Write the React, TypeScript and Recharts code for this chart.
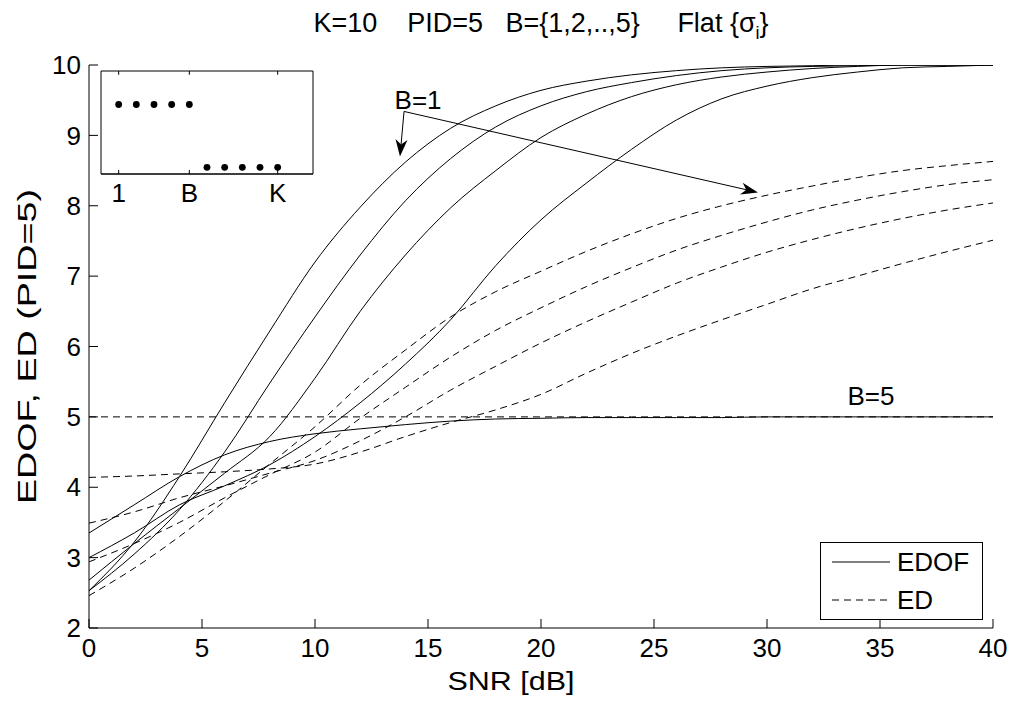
import React from 'react';
import {
  LineChart,
  Line,
  XAxis,
  YAxis,
  ReferenceLine,
  ReferenceDot,
  ReferenceArea,
  Legend,
  ScatterChart,
  Scatter,
} from 'recharts';

// SNR grid [dB]
const snr = [0, 2, 4, 6, 8, 10, 12, 14, 16, 18, 20, 22, 24, 26, 28, 30, 32, 34, 36, 38, 40];

// EDOF curves, B = 1..5 (solid)
const edofB1 = [2.53, 3.22, 4.15, 5.2, 6.22, 7.2, 7.98, 8.62, 9.1, 9.42, 9.64, 9.77, 9.86, 9.92, 9.96, 9.98, 9.99, 10, 10, 10, 10];
const edofB2 = [2.53, 3.05, 3.68, 4.5, 5.48, 6.42, 7.3, 8.07, 8.67, 9.12, 9.42, 9.62, 9.75, 9.85, 9.92, 9.96, 9.98, 9.99, 10, 10, 10];
const edofB3 = [2.68, 3.2, 3.7, 4.2, 4.72, 5.55, 6.5, 7.3, 7.97, 8.5, 8.97, 9.3, 9.55, 9.72, 9.83, 9.9, 9.95, 9.98, 10, 10, 10];
const edofB4 = [3.0, 3.35, 3.75, 4.02, 4.32, 4.72, 5.2, 5.75, 6.38, 7.15, 7.8, 8.32, 8.8, 9.22, 9.52, 9.7, 9.82, 9.9, 9.96, 9.98, 10];
const edofB5 = [3.35, 3.75, 4.15, 4.46, 4.65, 4.76, 4.83, 4.89, 4.94, 4.97, 4.98, 4.99, 4.99, 4.99, 4.99, 5, 5, 5, 5, 5, 5];

// ED curves, B = 1..5 (dashed)
const edB1 = [2.46, 2.85, 3.3, 3.8, 4.33, 4.86, 5.45, 5.95, 6.42, 6.78, 7.07, 7.35, 7.6, 7.82, 8.0, 8.15, 8.28, 8.4, 8.5, 8.57, 8.63];
const edB2 = [2.94, 3.2, 3.5, 3.85, 4.18, 4.5, 4.98, 5.42, 5.85, 6.23, 6.55, 6.85, 7.12, 7.37, 7.58, 7.77, 7.94, 8.08, 8.2, 8.3, 8.37];
const edB3 = [3.49, 3.65, 3.85, 4.02, 4.2, 4.38, 4.66, 5.0, 5.38, 5.72, 6.05, 6.35, 6.63, 6.9, 7.13, 7.34, 7.52, 7.68, 7.82, 7.94, 8.04];
const edB4 = [4.14, 4.16, 4.19, 4.22, 4.26, 4.33, 4.5, 4.72, 4.92, 5.1, 5.32, 5.62, 5.9, 6.15, 6.38, 6.6, 6.82, 7.0, 7.18, 7.35, 7.51];
const edB5 = [5, 5, 5, 5, 5, 5, 5, 5, 5, 5, 5, 5, 5, 5, 5, 5, 5, 5, 5, 5, 5];

const xTicks = [0, 5, 10, 15, 20, 25, 30, 35, 40];
const yTicks = [2, 3, 4, 5, 6, 7, 8, 9, 10];

// inset: singular value profile, flat over 1..B then low over B+1..K
const insetIndex = [1, 2, 3, 4, 5, 6, 7, 8, 9, 10];
const insetLevel = [1, 1, 1, 1, 1, 0, 0, 0, 0, 0];
const insetTicks = [1, 5, 10];
const insetTickLabels = ['1', 'B', 'K'];
const insetX: [number, number] = [0, 12];
const insetY: [number, number] = [-0.106, 1.533];

const FONT = '"Liberation Sans", Arial, Helvetica, sans-serif';
const FS = 26;

const data = snr.map((s, i) => ({
  snr: s,
  edof1: edofB1[i],
  edof2: edofB2[i],
  edof3: edofB3[i],
  edof4: edofB4[i],
  edof5: edofB5[i],
  ed1: edB1[i],
  ed2: edB2[i],
  ed3: edB3[i],
  ed4: edB4[i],
  ed5: edB5[i],
}));

const insetData = insetIndex.map((k, i) => ({ pos: k, level: insetLevel[i] }));

const Arrow = (props: any) => {
  const { x1, y1, x2, y2 } = props;
  const a = Math.atan2(y2 - y1, x2 - x1);
  const c = Math.cos(a);
  const s = Math.sin(a);
  const len = 17;
  const half = 6;
  const back = 12;
  const pts = [
    [x2, y2],
    [x2 - len * c + half * s, y2 - len * s - half * c],
    [x2 - back * c, y2 - back * s],
    [x2 - len * c - half * s, y2 - len * s + half * c],
  ]
    .map((p) => p.join(','))
    .join(' ');
  return (
    <g>
      <line x1={x1} y1={y1} x2={x2 - back * c} y2={y2 - back * s} stroke="#000" strokeWidth={1} />
      <polygon points={pts} fill="#000" />
    </g>
  );
};

const YLabel = (props: any) => {
  const vb = props.viewBox || { y: 57, height: 563 };
  const cx = 19;
  const cy = vb.y + vb.height / 2;
  return (
    <text
      x={cx}
      y={cy}
      transform={`rotate(-90, ${cx}, ${cy})`}
      textAnchor="middle"
      dominantBaseline="central"
      fontSize={FS}
      fontFamily={FONT}
      fill="#000"
      textLength={315}
      lengthAdjust="spacingAndGlyphs"
    >
      EDOF, ED (PID=5)
    </text>
  );
};

const XLabel = () => (
  <text x={503} y={682} textAnchor="middle" fontSize={FS} fontFamily={FONT} fill="#000" textLength={127} lengthAdjust="spacingAndGlyphs">
    SNR [dB]
  </text>
);

const LegendBox = () => (
  <svg width={164} height={79} style={{ display: 'block' }}>
    <rect x={0.5} y={0.5} width={162} height={77} fill="#fff" stroke="#000" strokeWidth={1} />
    <line x1={12} y1={20} x2={70} y2={20} stroke="#000" strokeWidth={1} />
    <text x={77} y={29} fontSize={FS} fontFamily={FONT} fill="#000">EDOF</text>
    <line x1={12} y1={58} x2={70} y2={58} stroke="#000" strokeWidth={1} strokeDasharray="7 5" />
    <text x={77} y={67} fontSize={FS} fontFamily={FONT} fill="#000">ED</text>
  </svg>
);

const InsetDot = (props: any) => <circle cx={props.cx} cy={props.cy} r={3.4} fill="#000" />;

const tickStyle = { fill: '#000', fontSize: FS, fontFamily: FONT };

export default function App() {
  return (
    <div style={{ position: 'relative', width: 1003, height: 694, fontFamily: FONT, background: '#fff' }}>
      <LineChart width={1000} height={690} data={data} margin={{ top: 57, right: 15, bottom: 0, left: 0 }}>
        <XAxis
          dataKey="snr"
          type="number"
          domain={[0, 40]}
          ticks={xTicks}
          allowDataOverflow
          height={70}
          tickSize={-9}
          tickMargin={20}
          tick={tickStyle}
          axisLine={{ stroke: '#000' }}
          tickLine={{ stroke: '#000' }}
          label={{ content: XLabel }}
        />
        <XAxis
          xAxisId="top"
          orientation="top"
          dataKey="snr"
          type="number"
          domain={[0, 40]}
          ticks={xTicks}
          allowDataOverflow
          height={0}
          tickSize={-9}
          tick={false}
          axisLine={{ stroke: '#000' }}
          tickLine={{ stroke: '#000' }}
        />
        <YAxis
          type="number"
          domain={[2, 10]}
          ticks={yTicks}
          allowDataOverflow
          width={81}
          tickSize={-9}
          tickMargin={17}
          tick={tickStyle}
          axisLine={{ stroke: '#000' }}
          tickLine={{ stroke: '#000' }}
          label={{ content: YLabel }}
        />
        <YAxis
          yAxisId="right"
          orientation="right"
          type="number"
          domain={[2, 10]}
          ticks={yTicks}
          allowDataOverflow
          width={0}
          tickSize={-9}
          tick={false}
          axisLine={{ stroke: '#000' }}
          tickLine={{ stroke: '#000' }}
        />

        <Line dataKey="ed5" stroke="#000" strokeWidth={1} strokeDasharray="7 5" dot={false} type="monotone" isAnimationActive={false} />
        <Line dataKey="ed4" stroke="#000" strokeWidth={1} strokeDasharray="7 5" dot={false} type="monotone" isAnimationActive={false} />
        <Line dataKey="ed3" stroke="#000" strokeWidth={1} strokeDasharray="7 5" dot={false} type="monotone" isAnimationActive={false} />
        <Line dataKey="ed2" stroke="#000" strokeWidth={1} strokeDasharray="7 5" dot={false} type="monotone" isAnimationActive={false} />
        <Line dataKey="ed1" stroke="#000" strokeWidth={1} strokeDasharray="7 5" dot={false} type="monotone" isAnimationActive={false} />
        <Line dataKey="edof5" stroke="#000" strokeWidth={1} dot={false} type="monotone" isAnimationActive={false} />
        <Line dataKey="edof4" stroke="#000" strokeWidth={1} dot={false} type="monotone" isAnimationActive={false} />
        <Line dataKey="edof3" stroke="#000" strokeWidth={1} dot={false} type="monotone" isAnimationActive={false} />
        <Line dataKey="edof2" stroke="#000" strokeWidth={1} dot={false} type="monotone" isAnimationActive={false} />
        <Line dataKey="edof1" stroke="#000" strokeWidth={1} dot={false} type="monotone" isAnimationActive={false} />

        <ReferenceLine segment={[{ x: 13.94, y: 9.34 }, { x: 13.76, y: 8.7 }]} shape={Arrow} ifOverflow="visible" />
        <ReferenceLine segment={[{ x: 13.94, y: 9.34 }, { x: 29.6, y: 8.19 }]} shape={Arrow} ifOverflow="visible" />
        <ReferenceDot
          x={14.56}
          y={9.5}
          r={0}
          fill="none"
          stroke="none"
          ifOverflow="visible"
          label={{ value: 'B=1', position: 'center', fill: '#000', fontSize: FS, fontFamily: FONT }}
        />
        <ReferenceDot
          x={34.6}
          y={5.3}
          r={0}
          fill="none"
          stroke="none"
          ifOverflow="visible"
          label={{ value: 'B=5', position: 'center', fill: '#000', fontSize: FS, fontFamily: FONT }}
        />

        <Legend
          layout="vertical"
          align="center"
          verticalAlign="middle"
          wrapperStyle={{ left: 812, top: 534, width: 164, height: 79 }}
          content={() => <LegendBox />}
        />
      </LineChart>

      <svg width={1003} height={50} style={{ position: 'absolute', left: 0, top: 0, pointerEvents: 'none' }}>
        <text x={533} y={24} textAnchor="middle" fontSize={27} fontFamily={FONT} fill="#000" style={{ whiteSpace: 'pre' }}>
          <tspan>{'K=10    PID=5   B={1,2,..,5}     Flat {σ'}</tspan>
          <tspan fontSize={18} dy={7}>i</tspan>
          <tspan dy={-7}>{'}'}</tspan>
        </text>
      </svg>

      <div style={{ position: 'absolute', left: 91, top: 61 }}>
        <ScatterChart width={216} height={148} margin={{ top: 2, right: 2, bottom: 0, left: 2 }}>
          <XAxis
            dataKey="pos"
            type="number"
            domain={insetX}
            ticks={insetTicks}
            tickFormatter={(v: number) => insetTickLabels[insetTicks.indexOf(v)]}
            allowDataOverflow
            height={43}
            tickSize={-4}
            tickMargin={14}
            tick={tickStyle}
            axisLine={{ stroke: '#000' }}
            tickLine={{ stroke: '#000' }}
          />
          <YAxis
            dataKey="level"
            type="number"
            domain={insetY}
            allowDataOverflow
            width={0}
            tick={false}
            tickLine={false}
            axisLine={{ stroke: '#000' }}
          />
          <ReferenceArea x1={insetX[0]} x2={insetX[1]} y1={insetY[0]} y2={insetY[1]} fill="#fff" fillOpacity={1} stroke="#000" strokeWidth={1} ifOverflow="visible" />
          {insetTicks.map((v) => (
            <ReferenceLine
              key={v}
              segment={[{ x: v, y: insetY[1] }, { x: v, y: insetY[1] - 0.06 }]}
              stroke="#000"
              ifOverflow="visible"
            />
          ))}
          <Scatter data={insetData} fill="#000" shape={InsetDot} isAnimationActive={false} />
        </ScatterChart>
      </div>
    </div>
  );
}
